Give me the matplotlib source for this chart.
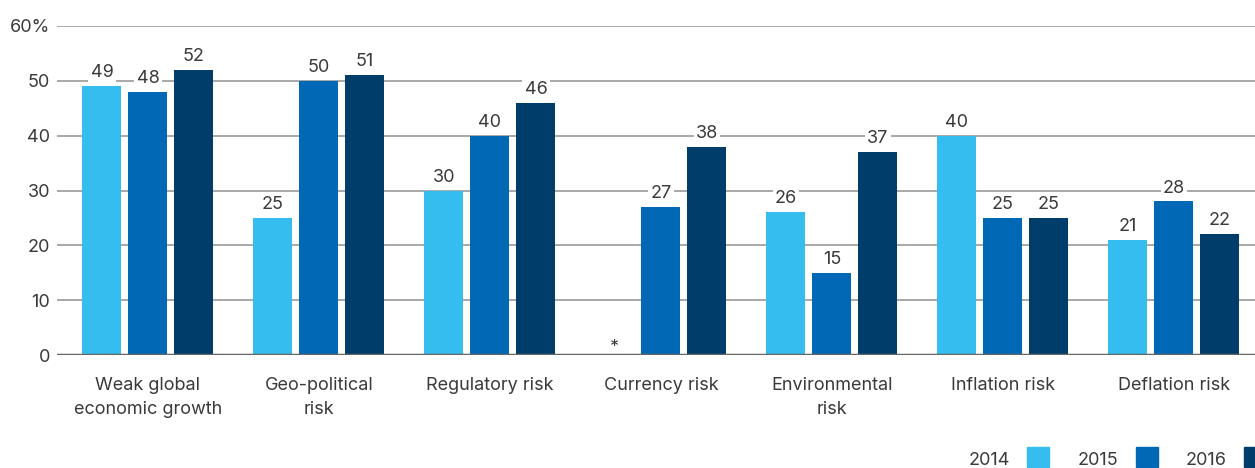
import numpy as np
import matplotlib.pyplot as plt
from matplotlib.patches import Rectangle

plt.rcParams['font.family'] = ['Inter', 'DejaVu Sans']

categories = ["Weak global\neconomic growth", "Geo-political\nrisk", "Regulatory risk",
              "Currency risk", "Environmental\nrisk", "Inflation risk", "Deflation risk"]
years = ["2014", "2015", "2016"]
v2014 = [49, 25, 30, np.nan, 26, 40, 21]
v2015 = [48, 50, 40, 27, 15, 25, 28]
v2016 = [52, 51, 46, 38, 37, 25, 22]
colors = ["#35BDEF", "#0068B4", "#003D6B"]
yticks = [0, 10, 20, 30, 40, 50, 60]
ytick_labels = ["0", "10", "20", "30", "40", "50", "60%"]

txt = "#3a3a3a"
fs = 13
fig = plt.figure(figsize=(12.55, 4.68), dpi=100)
ax = fig.add_axes([57 / 1255, 113 / 468, 1 - 57 / 1255, 329 / 468])

x = np.arange(len(categories))
width = 0.228
step = 0.269
for i, (vals, c) in enumerate(zip([v2014, v2015, v2016], colors)):
    pos = x + (i - 1) * step
    ax.bar(pos, vals, width=width, color=c, zorder=2)
    for p, v in zip(pos, vals):
        if np.isnan(v):
            ax.text(p, -0.2, "*", ha="center", va="bottom", fontsize=fs, color=txt, zorder=4)
            continue
        ax.text(p, v + 0.9, f"{v:.0f}", ha="center", va="bottom", fontsize=fs, color=txt,
                zorder=3, bbox=dict(facecolor="white", edgecolor="none", pad=1.5))

ax.set_xlim(-0.532, 6.474)
ax.set_ylim(0, 60)
ax.set_yticks(yticks)
ax.set_yticklabels(ytick_labels, fontsize=fs, color=txt)
ax.set_xticks(x)
ax.set_xticklabels(categories, fontsize=fs, color=txt, linespacing=1.5)
ax.tick_params(axis="both", length=0)
ax.tick_params(axis="x", pad=16)
ax.tick_params(axis="y", pad=5)
for yv in yticks[1:]:
    ax.axhline(yv, color="#9a9a9a", lw=1.2, zorder=1)
ax.axhline(0, color="#666666", lw=2.5, zorder=3)
for s in ax.spines.values():
    s.set_visible(False)

# legend at bottom right
for lx, yr, c in zip([969, 1078, 1186], years, colors):
    fig.text(lx / 1255, 1 - 465 / 468, yr, fontsize=fs, color=txt, va="baseline")
    fig.patches.append(Rectangle(((lx + 58) / 1255, 1 - 467 / 468), 22 / 1255, 20 / 468,
                                 transform=fig.transFigure, color=c))

fig.savefig("out.png", dpi=100)
